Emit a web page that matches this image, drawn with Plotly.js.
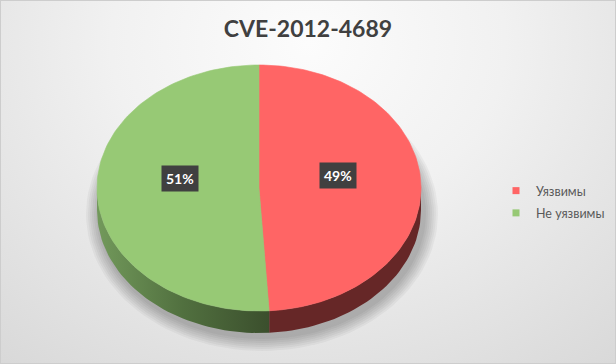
<!DOCTYPE html>
<html>
<head>
<meta charset="utf-8">
<script src="https://cdn.plot.ly/plotly-3.0.1.min.js"></script>
<style>
  html, body { margin: 0; padding: 0; background: #ffffff; }
  #chart {
    width: 616px; height: 364px;
    background: radial-gradient(ellipse 80% 115% at 50% 12%, #FCFCFC 0%, #F1F1F1 40%, #D8D8D8 100%);
    box-shadow: inset 0 0 0 1px #CDCDCD;
  }
</style>
</head>
<body>
<div id="chart"></div>
<script>
// ---- data ----
const chartTitle = 'CVE-2012-4689';
const labels = ['Уязвимы', 'Не уязвимы'];
const values = [49, 51];

// ---- styles ----
const topColors = ['#FF6565', '#97C975'];
const sideFills = [
  { color: '#662727' },
  { gradient: [[0, '#72995B'], [0.5, '#51703F'], [1, '#3B4F2D']] }
];
const fontFam = 'Lato, "Open Sans", sans-serif';

// ---- geometry (pixel space) ----
const W = 616, H = 364;
const cx = 259, cy = 188, rx = 162, ry = 123, depth = 22;
const labelR = 0.49, labelLift = 11;

const total = values.reduce((a, b) => a + b, 0);
let acc = 0;
const slices = values.map(v => { const a0 = acc; acc += v / total * 360; return [a0, acc]; });

function pt(deg, dy) {
  const r = deg * Math.PI / 180;
  return [cx + rx * Math.sin(r), cy - ry * Math.cos(r) + (dy || 0)];
}
function arc(a0, a1, dy, n) {
  const xs = [], ys = [];
  for (let i = 0; i <= n; i++) {
    const p = pt(a0 + (a1 - a0) * i / n, dy);
    xs.push(p[0]); ys.push(p[1]);
  }
  return [xs, ys];
}

const traces = [];

// soft shadow
for (let k = 0; k < 7; k++) {
  const xs = [], ys = [];
  for (let i = 0; i <= 120; i++) {
    const t = i / 120 * 2 * Math.PI;
    xs.push(cx + 3 + (rx + 2 + 2 * k) * Math.sin(t));
    ys.push(cy + depth + 4 - (ry + 2 + 2 * k) * Math.cos(t));
  }
  traces.push({ type: 'scatter', mode: 'lines', x: xs, y: ys, fill: 'toself',
    fillcolor: 'rgba(0,0,0,0.04)', line: { width: 0 }, hoverinfo: 'skip', showlegend: false });
}

// side walls (front half: 90..270 deg)
slices.forEach((s, i) => {
  const a = Math.max(s[0], 90), b = Math.min(s[1], 270);
  if (a >= b) return;
  const n = Math.max(4, Math.round((b - a) / 2));
  const top = arc(a, b, 0, n), bot = arc(b, a, depth, n);
  const tr = { type: 'scatter', mode: 'lines', x: top[0].concat(bot[0]), y: top[1].concat(bot[1]),
    fill: 'toself', line: { width: 0 }, hoverinfo: 'skip', showlegend: false };
  if (sideFills[i].gradient) {
    tr.fillgradient = { type: 'horizontal', colorscale: sideFills[i].gradient };
  } else {
    tr.fillcolor = sideFills[i].color;
  }
  traces.push(tr);
});

// top surface
slices.forEach((s, i) => {
  const n = Math.max(4, Math.round((s[1] - s[0]) / 1.5));
  const a = arc(s[0], s[1], 0, n);
  traces.push({ type: 'scatter', mode: 'lines', x: [cx].concat(a[0], [cx]), y: [cy].concat(a[1], [cy]),
    fill: 'toself', fillcolor: topColors[i], line: { width: 0.6, color: topColors[i] },
    name: labels[i], hoverinfo: 'name', showlegend: false });
});

// legend entries
labels.forEach((l, i) => {
  traces.push({ type: 'scatter', mode: 'markers', x: [null], y: [null], name: l,
    legendgroup: 'g' + i,
    marker: { symbol: 'square', size: 7, color: topColors[i] }, showlegend: true });
});

// data labels
const annotations = slices.map((s, i) => {
  const mid = (s[0] + s[1]) / 2;
  const r = mid * Math.PI / 180;
  return {
    x: cx + rx * labelR * Math.sin(r),
    y: cy - ry * labelR * Math.cos(r) - labelLift,
    xref: 'x', yref: 'y', showarrow: false,
    text: '<b>' + Math.round(values[i] / total * 100) + '%</b>',
    font: { family: fontFam, size: 14, color: '#FFFFFF' },
    bgcolor: '#404040', borderpad: 4
  };
});

const layout = {
  width: W, height: H,
  margin: { l: 0, r: 0, t: 0, b: 0 },
  paper_bgcolor: 'rgba(0,0,0,0)', plot_bgcolor: 'rgba(0,0,0,0)',
  title: { text: '<b>' + chartTitle + '</b>', x: 0.5, xanchor: 'center',
    yref: 'container', y: 1 - 29 / H, yanchor: 'middle',
    font: { family: fontFam, size: 23, color: '#404040' } },
  xaxis: { range: [0, W], visible: false, fixedrange: true },
  yaxis: { range: [H, 0], visible: false, fixedrange: true },
  showlegend: true,
  legend: { x: 496 / W, xanchor: 'left', y: 1 - 202 / H, yanchor: 'middle',
    traceorder: 'grouped', tracegroupgap: 3,
    bgcolor: 'rgba(0,0,0,0)', font: { family: fontFam, size: 12.5, color: '#595959' } },
  annotations: annotations
};

Plotly.newPlot('chart', traces, layout, { staticPlot: true, displayModeBar: false });
</script>
</body>
</html>
